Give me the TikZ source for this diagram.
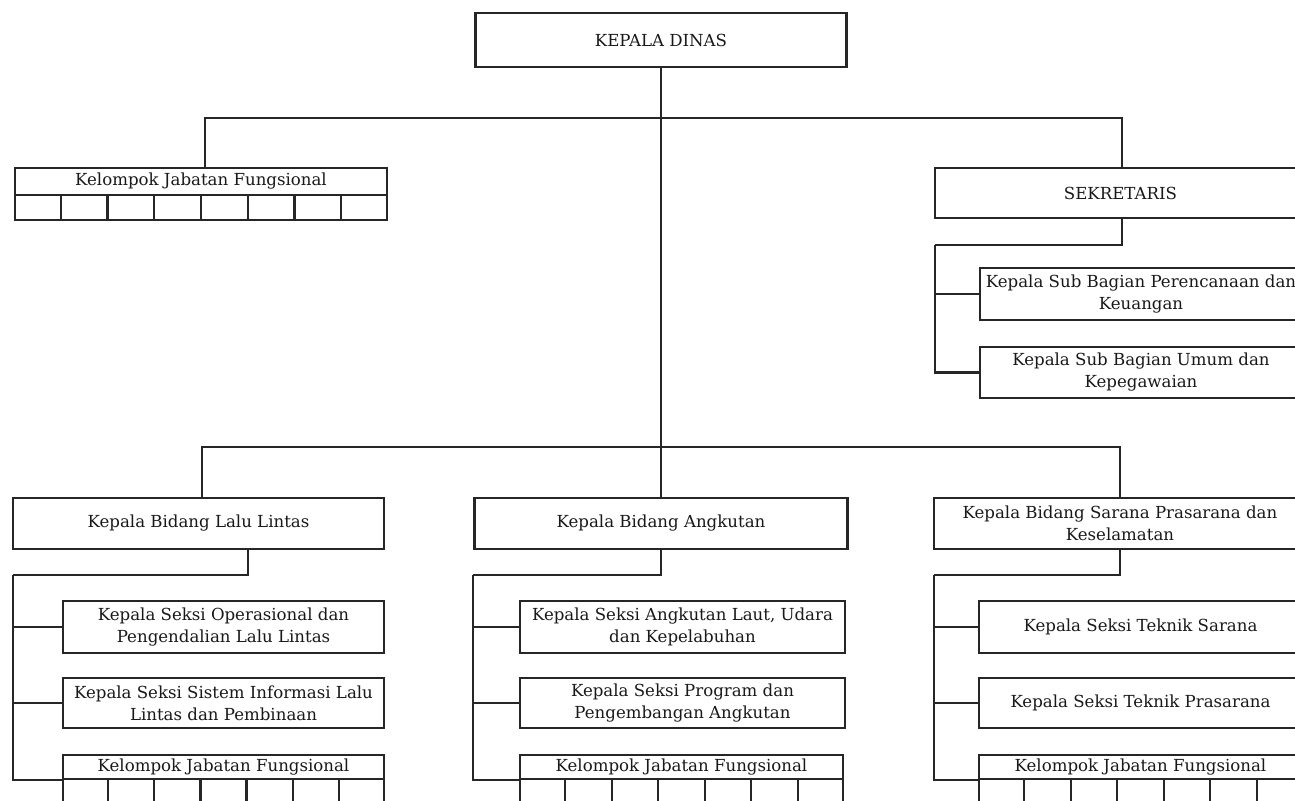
\documentclass[tikz,border=0pt]{standalone}
\usepackage{fontspec}
\setmainfont{DejaVu Serif}
\usetikzlibrary{calc}
\tikzset{
  box/.style={draw=black!85, line width=1.1pt, inner sep=0pt, align=center, text=black!90,
    rectangle, font=\fontsize{8.3}{11}\selectfont},
  wire/.style={draw=black!85, line width=1.1pt},
}
\begin{document}
\begin{tikzpicture}[x=0.5pt,y=-0.5pt]
\useasboundingbox (0,0) rectangle (1295,801);
\clip (0,0) rectangle (1295,801);
\fill[white] (0,0) rectangle (1295,801);
% top
\node[box, minimum width=185.5pt, minimum height=27pt] (kd) at (661,40) {KEPALA DINAS};
% left kelompok
\node[box, minimum width=186pt, minimum height=13.5pt] (kh0) at (201,181.5) {Kelompok Jabatan Fungsional};
\node[box, minimum width=186pt, minimum height=12.5pt] (kb0) at (201,207.5) {};
\foreach \i in {1,...,7} \draw[wire] ($(kb0.north west)!\i/8!(kb0.north east)$) -- ($(kb0.south west)!\i/8!(kb0.south east)$);
% sekretaris
\node[box, minimum width=185.5pt, minimum height=25pt] (sek) at (1120.5,193) {SEKRETARIS};
\node[box, minimum width=161pt, minimum height=26pt] (sb1) at (1141,294) {Kepala Sub Bagian Perencanaan dan\\Keuangan};
\node[box, minimum width=161pt, minimum height=25.5pt] (sb2) at (1141,372.5) {Kepala Sub Bagian Umum dan\\Kepegawaian};
% bidang
\node[box, minimum width=185.5pt, minimum height=25.5pt] (bd1) at (198.5,523.5) {Kepala Bidang Lalu Lintas};
\node[box, minimum width=186.5pt, minimum height=25.5pt] (bd2) at (661,523.5) {Kepala Bidang Angkutan};
\node[box, minimum width=186pt, minimum height=25.5pt] (bd3) at (1120,523.5) {Kepala Bidang Sarana Prasarana dan\\Keselamatan};
% seksi
\node[box, minimum width=160.5pt, minimum height=26pt] (s11) at (223.5,627) {Kepala Seksi Operasional dan\\Pengendalian Lalu Lintas};
\node[box, minimum width=160.5pt, minimum height=25pt] (s12) at (223.5,703) {Kepala Seksi Sistem Informasi Lalu\\Lintas dan Pembinaan};
\node[box, minimum width=162.5pt, minimum height=26pt] (s21) at (682.5,627) {Kepala Seksi Angkutan Laut, Udara\\dan Kepelabuhan};
\node[box, minimum width=162.5pt, minimum height=25pt] (s22) at (682.5,703) {Kepala Seksi Program dan\\Pengembangan Angkutan};
\node[box, minimum width=161.5pt, minimum height=26pt] (s31) at (1140.5,627) {Kepala Seksi Teknik Sarana};
\node[box, minimum width=161.5pt, minimum height=25pt] (s32) at (1140.5,703) {Kepala Seksi Teknik Prasarana};
% bottom kelompok
\node[box, minimum width=160.5pt, minimum height=12pt] (kh1) at (223.5,767) {Kelompok Jabatan Fungsional};
\node[box, minimum width=160.5pt, minimum height=30.5pt] (kb1) at (223.5,809.5) {};
\node[box, minimum width=161.5pt, minimum height=12pt] (kh2) at (681.5,767) {Kelompok Jabatan Fungsional};
\node[box, minimum width=161.5pt, minimum height=30.5pt] (kb2) at (681.5,809.5) {};
\node[box, minimum width=161.5pt, minimum height=12pt] (kh3) at (1140.5,767) {Kelompok Jabatan Fungsional};
\node[box, minimum width=161.5pt, minimum height=30.5pt] (kb3) at (1140.5,809.5) {};
\foreach \k in {kb1,kb2,kb3}
  \foreach \i in {1,...,6} \draw[wire] ($(\k.north west)!\i/7!(\k.north east)$) -- ($(\k.south west)!\i/7!(\k.south east)$);
% connectors
\coordinate (b1) at (661,118);
\coordinate (b2) at (661,447);
\draw[wire] (kd.south) -- (b2);
\draw[wire] ([xshift=2pt]kh0.north) |- (b1) -| ([xshift=0.75pt]sek.north);
\draw[wire] ([xshift=1.75pt]bd1.north) |- (b2) -| (bd3.north);
\draw[wire] (b2) -- (bd2.north);
% sekretaris subtree
\coordinate (sa) at (935,245);
\draw[wire] ([xshift=0.75pt]sek.south) |- (sa);
\draw[wire] (sa) |- (sb1.west);
\draw[wire] (sa) |- (sb2.west);
% column 1
\coordinate (c1) at (13,575);
\draw[wire] ([xshift=24.75pt]bd1.south) |- (c1);
\draw[wire] (c1) |- (s11.west);
\draw[wire] (c1) |- (s12.west);
\draw[wire] (c1) |- (kh1.south west);
% column 2
\coordinate (c2) at (473,575);
\draw[wire] (bd2.south) |- (c2);
\draw[wire] (c2) |- (s21.west);
\draw[wire] (c2) |- (s22.west);
\draw[wire] (c2) |- (kh2.south west);
% column 3
\coordinate (c3) at (934,575);
\draw[wire] (bd3.south) |- (c3);
\draw[wire] (c3) |- (s31.west);
\draw[wire] (c3) |- (s32.west);
\draw[wire] (c3) |- (kh3.south west);
\end{tikzpicture}
\end{document}
